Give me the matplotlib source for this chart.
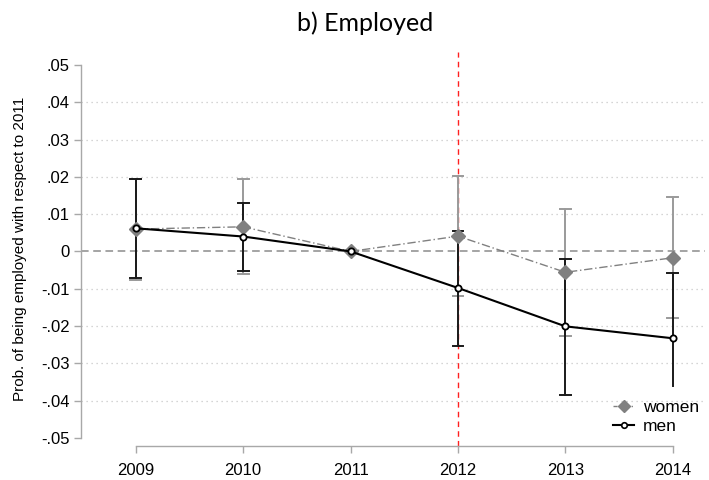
import matplotlib
matplotlib.use("Agg")
import matplotlib.pyplot as plt
from matplotlib.lines import Line2D
import numpy as np

years = [2009, 2010, 2011, 2012, 2013, 2014]

women = [0.0060, 0.0066, 0.0, 0.0041, -0.0056, -0.0017]
women_hi = [0.0195, 0.0195, 0.0, 0.0203, 0.0113, 0.0145]
women_lo = [-0.0076, -0.0061, 0.0, -0.0119, -0.0227, -0.0179]

men = [0.0062, 0.0040, 0.0, -0.0098, -0.0201, -0.0233]
men_hi = [0.0194, 0.0129, 0.0, 0.0055, -0.0019, -0.0059]
men_lo = [-0.0070, -0.0052, 0.0, -0.0253, -0.0386, -0.0361]

y_ticks = [0.05, 0.04, 0.03, 0.02, 0.01, 0.0, -0.01, -0.02, -0.03, -0.04, -0.05]
y_tick_labels = [".05", ".04", ".03", ".02", ".01", "0", "-.01", "-.02", "-.03", "-.04", "-.05"]

W, H = 709, 480
fig = plt.figure(figsize=(W / 100, H / 100), dpi=100)
ax = fig.add_axes([81 / W, (H - 446) / H, (705 - 81) / W, (446 - 52) / H])

ax.set_xlim(2008.49, 2014.3)
ax.set_ylim(-0.0522, 0.0535)

# reference grid
for v in y_ticks:
    if v == 0 or abs(v) == 0.05:
        continue
    ax.axhline(v, color="#c8c8c8", lw=0.9, ls=(0, (1, 3)), zorder=0)
ax.axhline(0, color="#8c8c8c", lw=1.1, ls=(0, (5, 3)), zorder=1)
ax.axvline(2012, color="#ff2020", lw=1.0, ls=(0, (4, 3)), zorder=1)

x = np.array(years, dtype=float)
wg = "#808080"
wbar = "#9a9a9a"

# confidence intervals (2011 is the reference year)
sel = [i for i in range(len(years)) if years[i] != 2011]
for i in sel:
    ax.plot([x[i], x[i]], [women_lo[i], women_hi[i]], color=wbar, lw=1.4, zorder=2)
    ax.plot([x[i], x[i]], [men_lo[i], men_hi[i]], color="#1a1a1a", lw=1.4, zorder=3)
cw = 0.05
for i in sel:
    for v in (women_lo[i], women_hi[i]):
        ax.plot([x[i] - cw, x[i] + cw], [v, v], color=wbar, lw=1.4, zorder=2)
    for v in (men_lo[i], men_hi[i]):
        if years[i] == 2014 and v == men_lo[i]:
            continue
        ax.plot([x[i] - cw, x[i] + cw], [v, v], color="#1a1a1a", lw=1.4, zorder=3)

ax.plot(x, women, color=wg, lw=1.0, ls=(0, (6, 2, 1, 2)), marker="D", ms=7,
        mfc=wg, mec=wg, zorder=4)
ax.plot(x, men, color="black", lw=1.5, marker="o", ms=4.5, mfc="white",
        mec="black", mew=1.3, zorder=5)

for s in ("top", "right"):
    ax.spines[s].set_visible(False)
ax.spines["left"].set_bounds(-0.05, 0.05)
ax.spines["bottom"].set_bounds(2009, 2014)
for s in ("left", "bottom"):
    ax.spines[s].set_color("#a8a8a8")
    ax.spines[s].set_linewidth(1.0)

ax.set_yticks(y_ticks)
ax.set_yticklabels(y_tick_labels)
ax.set_xticks(years)
ax.set_xticklabels([str(y) for y in years])
ax.tick_params(axis="both", colors="#a8a8a8", length=5, width=1.0,
               labelcolor="black")
for lab in ax.get_xticklabels() + ax.get_yticklabels():
    lab.set_family("Liberation Sans")
ax.tick_params(axis="x", pad=7, labelsize=12)
ax.tick_params(axis="y", pad=3, labelsize=12)

ax.set_ylabel("Prob. of being employed with respect to 2011", fontsize=11,
              family="Liberation Sans", labelpad=10)

fig.text(365 / W, 1 - 23 / H, "b) Employed", ha="center", va="center",
         fontsize=18, family="Lato")

handles = [
    Line2D([], [], color=wg, lw=1.0, ls=(0, (3, 2, 1, 2)), marker="D", ms=6,
           mfc=wg, mec=wg),
    Line2D([], [], color="black", lw=1.5, marker="o", ms=4, mfc="white",
           mec="black", mew=1.2),
]
leg = ax.legend(handles, ["women", "men"], loc="lower right",
                bbox_to_anchor=(1.01, 0.0), frameon=False,
                prop={"family": "Liberation Sans", "size": 12.5},
                handlelength=1.2, handletextpad=0.5, labelspacing=0.2,
                borderaxespad=0.3)

fig.savefig("out.png", dpi=100)
